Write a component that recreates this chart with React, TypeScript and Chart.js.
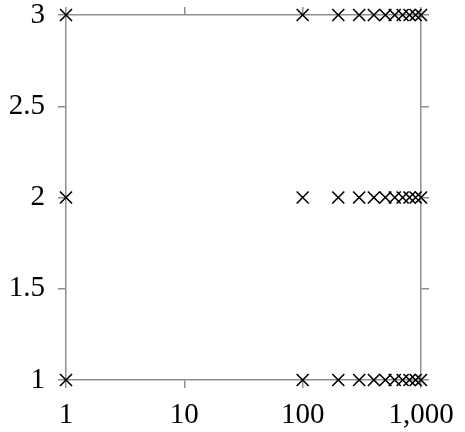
import React, { useEffect, useRef } from "react";
import { Chart, registerables } from "chart.js";

Chart.register(...registerables);

const xValues = [1, 100, 200, 300, 400, 500, 600, 700, 800, 900, 1000];
const yLevels = [1, 2, 3];
const xTickValues = [1, 10, 100, 1000];
const yTickValues = [1, 1.5, 2, 2.5, 3];

const AXIS_COLOR = "#8f8f8f";
const FONT = { family: "'Liberation Serif', 'DejaVu Serif', serif", size: 29 };

export default function App() {
  const ref = useRef<HTMLCanvasElement | null>(null);

  useEffect(() => {
    if (!ref.current) return;
    const datasets = yLevels.map((yv) => ({
      label: String(yv),
      data: xValues.map((xv) => ({ x: xv, y: yv })),
      showLine: false,
      pointStyle: "crossRot" as const,
      pointRadius: 8.5,
      pointBorderWidth: 1.6,
      pointBorderColor: "#000",
      pointBackgroundColor: "#000",
      clip: false as const,
    }));

    const setX = (scale: any) => {
      scale.ticks = xTickValues.map((v) => ({ value: v }));
    };
    const setY = (scale: any) => {
      scale.ticks = yTickValues.map((v) => ({ value: v }));
    };
    const zeroPad = (s: any) => {
      s.paddingTop = 0;
      s.paddingBottom = 0;
      s.paddingLeft = 0;
      s.paddingRight = 0;
    };
    const grid = {
      drawOnChartArea: false,
      drawTicks: true,
      tickLength: 8,
      color: AXIS_COLOR,
      lineWidth: 1.5,
    };
    const border = { display: true, color: AXIS_COLOR, width: 1.5 };

    const chart = new Chart(ref.current, {
      type: "scatter",
      data: { datasets },
      options: {
        animation: false,
        responsive: false,
        layout: { padding: 0, autoPadding: false },
        plugins: { legend: { display: false }, tooltip: { enabled: false } },
        scales: {
          x: {
            type: "logarithmic",
            position: "bottom",
            min: 1,
            max: 1000,
            afterBuildTicks: setX,
            afterFit: (s: any) => {
              s.height = 52;
              zeroPad(s);
            },
            grid,
            border,
            ticks: {
              color: "#000",
              font: FONT,
              padding: 10,
              maxRotation: 0,
              autoSkip: false,
              callback: (v: any) => Number(v).toLocaleString("en-US"),
            },
          },
          x2: {
            type: "logarithmic",
            position: "top",
            min: 1,
            max: 1000,
            afterBuildTicks: setX,
            afterFit: (s: any) => {
              s.height = 15;
              zeroPad(s);
            },
            grid,
            border,
            ticks: { display: false },
          },
          y: {
            type: "linear",
            position: "left",
            min: 1,
            max: 3,
            afterBuildTicks: setY,
            afterFit: (s: any) => {
              s.width = 66;
              zeroPad(s);
            },
            grid,
            border,
            ticks: {
              color: "#000",
              font: FONT,
              padding: 13,
              autoSkip: false,
              callback: (v: any) => String(v),
            },
          },
          y2: {
            type: "linear",
            position: "right",
            min: 1,
            max: 3,
            afterBuildTicks: setY,
            afterFit: (s: any) => {
              s.width = 44;
              zeroPad(s);
            },
            grid,
            border,
            ticks: { display: false },
          },
        },
      },
    });
    return () => chart.destroy();
  }, []);

  return (
    <div style={{ position: "absolute", left: 0, top: 0, width: 465, height: 432, background: "#fff" }}>
      <canvas ref={ref} width={465} height={432} style={{ display: "block" }} />
    </div>
  );
}
